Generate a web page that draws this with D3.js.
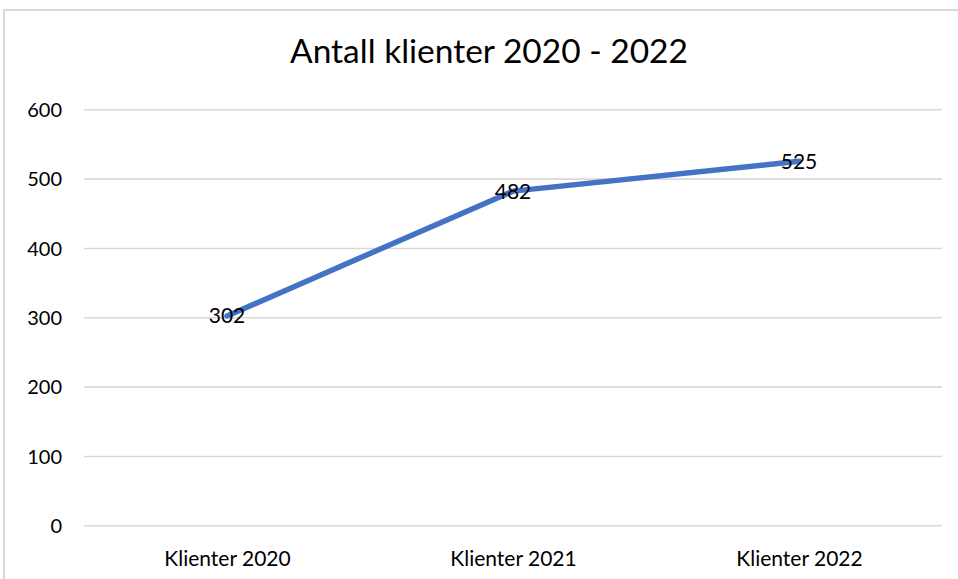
<!DOCTYPE html>
<html>
<head>
<meta charset="utf-8">
<script src="https://cdn.jsdelivr.net/npm/d3@7"></script>
<style>
  html, body { margin: 0; padding: 0; background: #fff; }
  svg { display: block; }
  text { font-family: Lato, "Open Sans", sans-serif; fill: #000; }
</style>
</head>
<body>
<svg id="chart" width="958" height="579"></svg>
<script>
const title = "Antall klienter 2020 - 2022";
const categories = ["Klienter 2020", "Klienter 2021", "Klienter 2022"];
const values = [302, 482, 525];
const yTicks = [0, 100, 200, 300, 400, 500, 600];

const W = 958, H = 579;
const plot = { left: 84, right: 942, top: 109.3, bottom: 525.3 };

const svg = d3.select("#chart");

// outer chart border (only left/top visible in frame)
svg.append("rect")
  .attr("x", 4).attr("y", 10)
  .attr("width", W + 20).attr("height", H + 20)
  .attr("fill", "none")
  .attr("stroke", "#d9d9d9")
  .attr("stroke-width", 2);

const x = d3.scalePoint().domain(categories).range([plot.left, plot.right]).padding(0.5);
const y = d3.scaleLinear().domain([0, 600]).range([plot.bottom, plot.top]);

// title
svg.append("text")
  .attr("x", 489).attr("y", 63)
  .attr("text-anchor", "middle")
  .style("font-size", "33.5px")
  .text(title);

// gridlines + y tick labels
const yAxis = d3.axisLeft(y).tickValues(yTicks).tickSize(-(plot.right - plot.left)).tickPadding(22);
const gy = svg.append("g").attr("transform", `translate(${plot.left},0)`).call(yAxis);
gy.select(".domain").remove();
gy.selectAll(".tick line").attr("stroke", "#d9d9d9").attr("stroke-width", 1.6);
gy.selectAll(".tick text")
  .style("font-size", "20px")
  .style("font-family", "Lato, 'Open Sans', sans-serif")
  .attr("fill", "#000")
  .attr("dy", "0.36em");

// x axis labels
const xAxis = d3.axisBottom(x).tickSize(0).tickPadding(26);
const gx = svg.append("g").attr("transform", `translate(0,${plot.bottom})`).call(xAxis);
gx.select(".domain").remove();
gx.selectAll(".tick text")
  .style("font-size", "21px")
  .style("font-family", "Lato, 'Open Sans', sans-serif")
  .attr("fill", "#000");

// line
const data = categories.map((c, i) => ({ c, v: values[i] }));
const line = d3.line().x(d => x(d.c)).y(d => y(d.v));
svg.append("path")
  .datum(data)
  .attr("d", line)
  .attr("fill", "none")
  .attr("stroke", "#4472C4")
  .attr("stroke-width", 5.5)
  .attr("stroke-linejoin", "round")
  .attr("stroke-linecap", "round");

// data labels
svg.append("g").selectAll("text")
  .data(data)
  .join("text")
  .attr("x", d => x(d.c))
  .attr("y", d => y(d.v))
  .attr("dy", "0.36em")
  .attr("text-anchor", "middle")
  .style("font-size", "21px")
  .text(d => d.v);
</script>
</body>
</html>
